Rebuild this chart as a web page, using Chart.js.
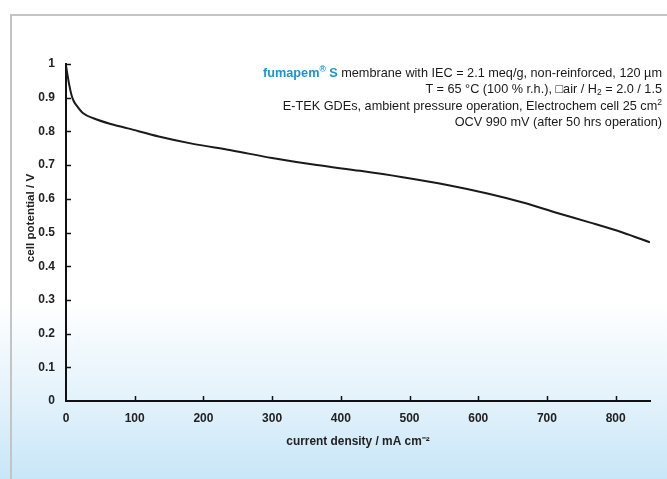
<!DOCTYPE html>
<html>
<head>
<meta charset="utf-8">
<script src="https://cdn.jsdelivr.net/npm/chart.js@4/dist/chart.umd.min.js"></script>
<style>
  html, body { margin: 0; padding: 0; }
  body {
    width: 667px; height: 479px; overflow: hidden; position: relative;
    background: linear-gradient(to bottom, #ffffff 0px, #ffffff 300px, #e3f2fb 400px, #c8e6f8 479px);
    font-family: "Liberation Sans", Arial, sans-serif;
  }
  #frame {
    position: absolute; left: 10px; top: 14px; width: 700px; height: 500px;
    border-left: 2px solid #c4c4c4; border-top: 2px solid #c4c4c4;
  }
  #wrap { position: absolute; left: 0; top: 0; width: 667px; height: 479px; }
  #note {
    position: absolute; right: 5px; top: 65px; text-align: right;
    font-size: 12.7px; line-height: 16.4px; color: #1a1a1a;
    font-family: "Liberation Sans", Arial, sans-serif; white-space: nowrap;
  }
  #note .brand { color: #1a95d2; font-weight: bold; }
  #note sup { font-size: 8.5px; line-height: 0; vertical-align: 5px; }
  #note sub { font-size: 8.5px; line-height: 0; vertical-align: -2px; }
</style>
</head>
<body>
<div id="frame"></div>
<div id="wrap"><canvas id="c" width="667" height="479"></canvas></div>
<div id="note">
  <span class="brand">fumapem<sup>®</sup> S</span> membrane with IEC = 2.1 meq/g, non-reinforced, 120 µm<br>
  T = 65 °C (100 % r.h.), □air / H<sub>2</sub> = 2.0 / 1.5<br>
  E-TEK GDEs, ambient pressure operation, Electrochem cell 25 cm<sup>2</sup><br>
  OCV 990 mV (after 50 hrs operation)
</div>
<script>
const currentDensity = [0, 2, 5, 8, 11, 15, 25, 40, 65, 90, 135, 185, 240, 300, 365, 428, 490, 555, 615, 665, 715, 762, 810, 850];
const cellPotential  = [0.995, 0.97, 0.935, 0.908, 0.891, 0.878, 0.854, 0.839, 0.822, 0.809, 0.785, 0.763, 0.744, 0.721, 0.700, 0.683, 0.664, 0.641, 0.615, 0.589, 0.558, 0.530, 0.500, 0.471];
const xTicks = [0, 100, 200, 300, 400, 500, 600, 700, 800];
const yTicks = [0, 0.1, 0.2, 0.3, 0.4, 0.5, 0.6, 0.7, 0.8, 0.9, 1];
const yTickLabels = ['0', '0.1', '0.2', '0.3', '0.4', '0.5', '0.6', '0.7', '0.8', '0.9', '1'];

const narrow = "'Liberation Sans Narrow', 'Liberation Sans', Arial, sans-serif";
const tickFont = { family: narrow, size: 12, weight: 'bold' };

const innerTicks = {
  id: 'innerTicks',
  afterDraw(chart) {
    const ctx = chart.ctx;
    const xs = chart.scales.x, ys = chart.scales.y;
    const area = chart.chartArea;
    ctx.save();
    ctx.strokeStyle = '#111';
    ctx.lineWidth = 1.5;
    ctx.beginPath();
    xTicks.forEach(v => {
      if (v === 0) return;
      const px = Math.round(xs.getPixelForValue(v)) + 0.5;
      ctx.moveTo(px, area.bottom);
      ctx.lineTo(px, area.bottom - 5);
    });
    yTicks.forEach(v => {
      if (v === 0) return;
      const py = Math.round(ys.getPixelForValue(v)) + 0.5;
      ctx.moveTo(area.left, py);
      ctx.lineTo(area.left + 5, py);
    });
    ctx.stroke();
    ctx.restore();
  }
};

new Chart(document.getElementById('c'), {
  type: 'line',
  data: {
    datasets: [{
      data: currentDensity.map((x, i) => ({ x: x, y: cellPotential[i] })),
      borderColor: '#1a1a1a',
      borderWidth: 2,
      pointRadius: 0,
      cubicInterpolationMode: 'monotone',
      fill: false
    }]
  },
  options: {
    responsive: false,
    animation: false,
    devicePixelRatio: 1,
    layout: { padding: { left: 24, right: 17, top: 64, bottom: 30 } },
    plugins: { legend: { display: false }, tooltip: { enabled: false } },
    scales: {
      x: {
        type: 'linear', min: 0, max: 850,
        afterBuildTicks: s => { s.ticks = xTicks.map(v => ({ value: v })); },
        afterFit: s => { s.height = 48; },
        grid: { display: true, drawOnChartArea: false, drawTicks: false },
        border: { display: true, color: '#111', width: 2 },
        ticks: { color: '#222', font: tickFont, padding: 10, maxRotation: 0, autoSkip: false },
        title: {
          display: true,
          text: 'current density / mA cm⁻²',
          color: '#222',
          font: { family: narrow, size: 11.9, weight: 'bold' },
          padding: { top: 6, bottom: 0 }
        }
      },
      y: {
        type: 'linear', min: 0, max: 1,
        afterBuildTicks: s => { s.ticks = yTicks.map(v => ({ value: v })); },
        afterFit: s => { s.width = 42; },
        grid: { display: true, drawOnChartArea: false, drawTicks: false },
        border: { display: true, color: '#111', width: 2 },
        ticks: {
          color: '#222', font: tickFont, padding: 11, autoSkip: false,
          callback: (v) => { const i = yTicks.findIndex(t => Math.abs(t - v) < 1e-9); return i >= 0 ? yTickLabels[i] : ''; }
        },
        title: {
          display: true,
          text: '         cell potential / V',
          color: '#222',
          font: { family: narrow, size: 11.6, weight: 'bold' },
          padding: { top: 0, bottom: 0 }
        }
      }
    }
  },
  plugins: [innerTicks]
});
</script>
</body>
</html>
